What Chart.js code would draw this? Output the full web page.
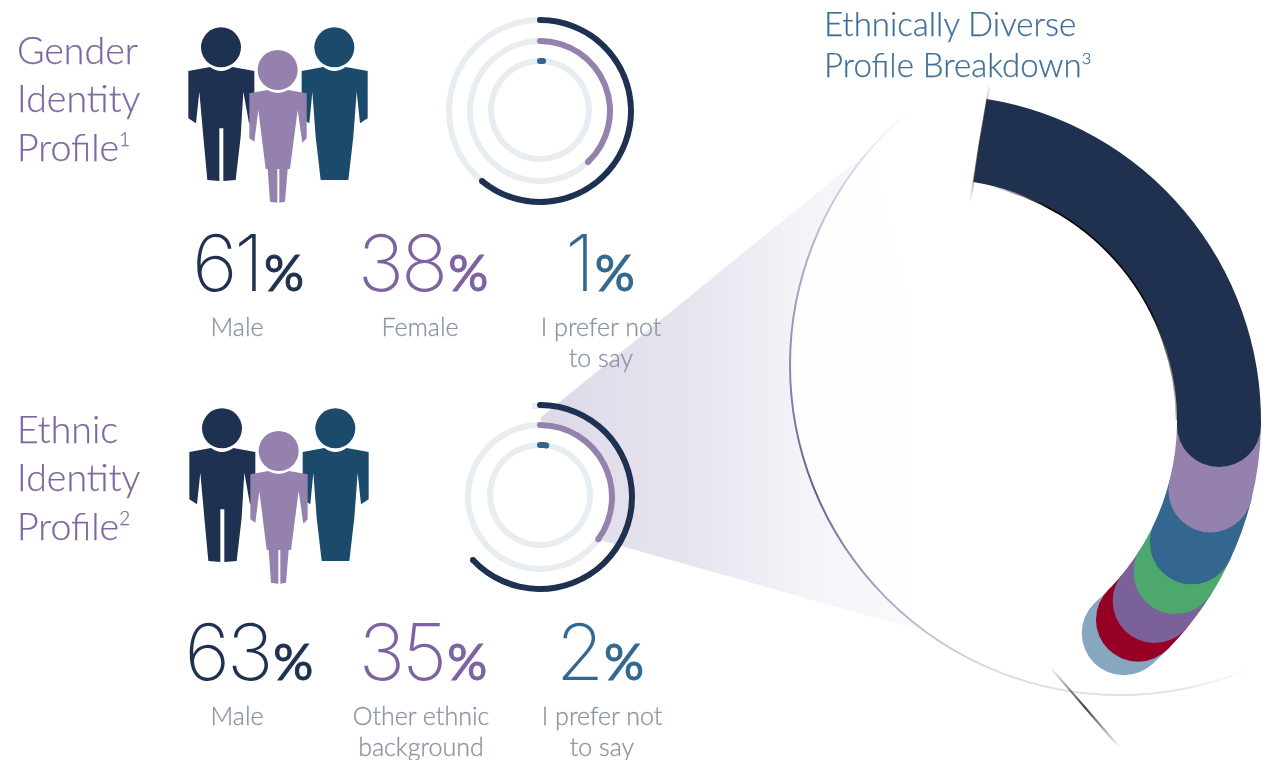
<!DOCTYPE html>
<html>
<head>
<meta charset="utf-8">
<title>Gender and ethnic identity profile</title>
<script src="https://cdn.jsdelivr.net/npm/chart.js@4"></script>
<style>
    html, body { margin: 0; background: #fff; }
    #stage { position: relative; width: 1262px; height: 760px; overflow: hidden; font-family: Lato, sans-serif; font-weight: 300; }
    #stage canvas, #stage svg { position: absolute; }
    .txt { position: absolute; white-space: nowrap; }
    .heading { left: 17px; font-size: 37.5px; line-height: 48.5px; color: #7f67a1; -webkit-text-stroke: 0.25px #7f67a1; }
    .title { left: 824px; font-size: 33px; line-height: 41px; color: #3f6f9a; -webkit-text-stroke: 0.25px #3f6f9a; }
    sup { font-size: 50%; vertical-align: baseline; position: relative; top: -0.8em; }
    .num { font-family: Inter, sans-serif; font-weight: 200; font-size: 78px; line-height: 82px; letter-spacing: -3px; transform: translateX(-50%); }
    .num b { font-family: Lato, sans-serif; font-size: 50px; font-weight: 400; letter-spacing: 0; margin-left: 3px; -webkit-text-stroke: 0.9px currentColor; }
    .label { font-size: 25px; line-height: 30.5px; color: #8a94a4; text-align: center; transform: translateX(-50%); -webkit-text-stroke: 0.3px #8a94a4; }
</style>
</head>
<body>
<div id="stage">
    <canvas id="backdrop" width="1262" height="760" style="left:0;top:0"></canvas>

    <svg width="480" height="210" viewBox="0 0 1440 630" style="left:170px;top:10px">
        <g id="people">
            <circle cx="153" cy="112" r="60" fill="#1f3150"/>
            <path fill="#1f3150" d="M55 183L120 171Q153 195 187 171L253 183V325L237 340L220 245L212 380L197 510L160 513V355H148V513L112 510L100 380L88 245L78 340L55 325Z"/>
            <circle cx="493" cy="112" r="60" fill="#1b4a6b"/>
            <path fill="#1b4a6b" d="M395 183L460 171Q493 195 527 171L593 183V325L570 340L560 245L550 380L535 510H452L437 380L427 245L418 340L395 325Z"/>
            <circle cx="323" cy="180" r="60" fill="#9481ae"/>
            <path fill="#9481ae" d="M238 250L292 240Q323 258 354 240L410 250V385L397 398L383 300L360 477H353L345 575L328 578V477H322V578L300 575L293 477H287L265 300L253 395L238 385Z"/>
        </g>
    </svg>
    <svg width="480" height="210" viewBox="0 0 1440 630" style="left:170.5px;top:390.5px">
        <use href="#people"/>
    </svg>

    <div class="txt heading" style="top:25.5px">Gender<br>Identity<br>Profile<sup>1</sup></div>
    <div class="txt heading" style="top:404.5px">Ethnic<br>Identity<br>Profile<sup>2</sup></div>
    <div class="txt title" style="top:3px">Ethnically Diverse<br>Profile Breakdown<sup>3</sup></div>
</div>

<script>
const genderValues = [61, 38, 1];
const genderLabels = ["Male", "Female", "I prefer not<br>to say"];
const ethnicValues = [63, 35, 2];
const ethnicLabels = ["Male", "Other ethnic<br>background", "I prefer not<br>to say"];

// share of the whole group, the seven slices add up to the ethnically diverse part
const breakdownValues = [22.7, 3.7, 3.1, 1.9, 2.0, 1.4, 1.1];
const breakdownColors = ["#20314f", "#9481ae", "#34678f", "#4da86e", "#7b6199", "#950024", "#87a6bf"];

const statColors = ["#1f3150", "#7e63a1", "#33688f"];
const ringColors = ["#1f3150", "#9481ae", "#34678f"];
const trackColor = "#e8edf2";

const stage = document.getElementById("stage");

// draws the slices last to first, with a round cap on each coloured one
const roundCaps = {
    id: "roundCaps",
    beforeDatasetDraw(chart, args, opts) {
        const ctx = chart.ctx;
        const arcs = args.meta.data;
        for (let i = arcs.length - 1; i >= 0; i--) {
            const arc = arcs[i];
            arc.draw(ctx);
            if (i >= opts.count) continue;
            const mid = (arc.innerRadius + arc.outerRadius) / 2;
            const capR = (arc.outerRadius - arc.innerRadius) / 2;
            ctx.fillStyle = arc.options.backgroundColor;
            const ends = opts.bothEnds ? [arc.startAngle, arc.endAngle] : [arc.endAngle];
            ends.forEach(a => {
                ctx.beginPath();
                ctx.arc(arc.x + mid * Math.cos(a), arc.y + mid * Math.sin(a), capR, 0, Math.PI * 2);
                ctx.fill();
            });
        }
        if (opts.edge) {
            // dark rim along the inner side of the first slice
            const first = arcs[0];
            const off = chart.canvas.offsetLeft;
            const rim = ctx.createLinearGradient(990 - off, 0, 1180 - off, 0);
            rim.addColorStop(0, "rgba(0,0,0,0)");
            rim.addColorStop(0.3, "rgba(0,0,0,1)");
            rim.addColorStop(0.85, "rgba(0,0,0,1)");
            rim.addColorStop(1, "rgba(0,0,0,0.2)");
            ctx.strokeStyle = rim;
            ctx.lineWidth = 1.6;
            ctx.beginPath();
            ctx.arc(first.x, first.y, first.innerRadius - 0.4, first.startAngle + 0.05, first.endAngle - 0.02);
            ctx.stroke();
        }
        return false;
    }
};

function addRing(cx, cy, outer, width, values, colors, rotation, capOpts) {
    const pad = 2;
    const canvas = document.createElement("canvas");
    canvas.width = canvas.height = outer * 2 + pad * 2;
    canvas.style.left = (cx - outer - pad) + "px";
    canvas.style.top = (cy - outer - pad) + "px";
    canvas.style.width = canvas.style.height = canvas.width + "px";
    stage.appendChild(canvas);
    return new Chart(canvas, {
        type: "doughnut",
        data: {
            datasets: [{ data: values, backgroundColor: colors, borderWidth: 0 }]
        },
        options: {
            responsive: false,
            animation: false,
            cutout: outer - width,
            rotation: rotation,
            layout: { padding: pad },
            events: [],
            plugins: {
                legend: { display: false },
                tooltip: { enabled: false },
                roundCaps: capOpts
            }
        },
        plugins: [roundCaps]
    });
}

function addProfile(centers, radii, values, hasOuterTrack) {
    values.forEach((v, i) => {
        const track = (i === 0 && !hasOuterTrack) ? "rgba(0,0,0,0)" : trackColor;
        addRing(540, centers[i], radii[i], 6, [v, 100 - v], [ringColors[i], track], 0, { count: 1, bothEnds: true });
    });
}

function addStats(values, labels, numX, numTop, labelX, labelTop) {
    values.forEach((v, i) => {
        const num = document.createElement("div");
        num.className = "txt num";
        num.style.left = numX[i] + "px";
        num.style.top = numTop + "px";
        num.style.color = statColors[i];
        num.innerHTML = v + "<b>%</b>";
        stage.appendChild(num);

        const lab = document.createElement("div");
        lab.className = "txt label";
        lab.style.left = labelX[i] + "px";
        lab.style.top = labelTop + "px";
        lab.innerHTML = labels[i];
        stage.appendChild(lab);
    });
}

// lilac wedge, thin outline circle and the two small ticks behind the rings
function drawBackdrop() {
    const ctx = document.getElementById("backdrop").getContext("2d");

    const fade = ctx.createLinearGradient(560, 0, 1000, 0);
    fade.addColorStop(0, "#dfdae9");
    fade.addColorStop(0.32, "#e8e5ef");
    fade.addColorStop(0.55, "#f4f3f8");
    fade.addColorStop(1, "#ffffff");
    ctx.fillStyle = fade;
    ctx.beginPath();
    ctx.moveTo(540, 418);
    ctx.lineTo(870, 150);
    ctx.lineTo(1000, 653);
    ctx.lineTo(600, 540);
    ctx.closePath();
    ctx.fill();

    ctx.fillStyle = "#fff";
    ctx.beginPath();
    ctx.arc(540, 497, 75, 0, Math.PI * 2);
    ctx.fill();

    // inside the big outline the wedge almost disappears
    ctx.fillStyle = "rgba(255,255,255,0.85)";
    ctx.beginPath();
    ctx.arc(1120, 365, 330, 0, Math.PI * 2);
    ctx.fill();

    ctx.fillStyle = trackColor;
    ctx.fillRect(532, 403, 8, 6);

    const cone = ctx.createConicGradient(0, 1120, 365);
    cone.addColorStop(0.185, "rgba(125,105,160,0)");
    cone.addColorStop(0.22, "rgba(125,105,160,0.2)");
    cone.addColorStop(0.31, "rgba(125,105,160,0.25)");
    cone.addColorStop(0.38, "rgba(125,105,160,0.6)");
    cone.addColorStop(0.436, "rgba(110,88,148,1)");
    cone.addColorStop(0.5, "rgba(125,105,160,0.8)");
    cone.addColorStop(0.56, "rgba(125,105,160,0.5)");
    cone.addColorStop(0.64, "rgba(125,105,160,0)");
    ctx.strokeStyle = cone;
    ctx.lineWidth = 2;
    ctx.beginPath();
    ctx.arc(1120, 365, 330, 0, Math.PI * 2);
    ctx.stroke();

    [[989.7, 83, 970, 203], [1050, 667, 1120, 748]].forEach(t => {
        const g = ctx.createLinearGradient(t[0], t[1], t[2], t[3]);
        g.addColorStop(0, "rgba(40,40,40,0)");
        g.addColorStop(0.5, "rgba(40,40,40,0.9)");
        g.addColorStop(1, "rgba(40,40,40,0)");
        ctx.strokeStyle = g;
        ctx.lineWidth = 2;
        ctx.beginPath();
        ctx.moveTo(t[0], t[1]);
        ctx.lineTo(t[2], t[3]);
        ctx.stroke();
    });
}

drawBackdrop();

addProfile([111, 111, 110], [94, 73, 52], genderValues, true);
addProfile([497, 497, 495], [95, 75, 53], ethnicValues, false);

const breakdownRest = 100 - breakdownValues.reduce((a, b) => a + b, 0);
addRing(935, 421, 326, 84,
    breakdownValues.concat([breakdownRest]),
    breakdownColors.concat(["rgba(0,0,0,0)"]),
    9.1,
    { count: breakdownValues.length, bothEnds: false, edge: true });

addStats(genderValues, genderLabels, [248, 423, 600], 222, [237, 420, 601], 311);
addStats(ethnicValues, ethnicLabels, [249, 423, 600], 611, [237, 421, 602], 700);
</script>
</body>
</html>
